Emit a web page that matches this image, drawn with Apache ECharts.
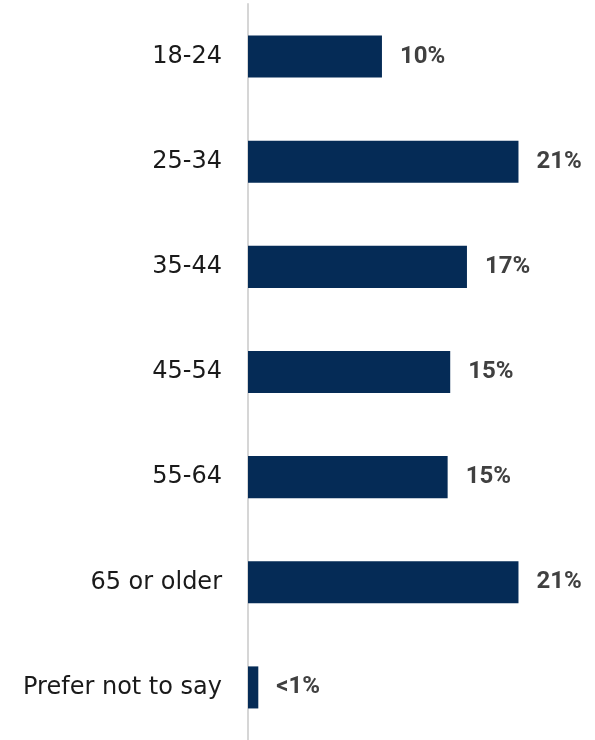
<!DOCTYPE html>
<html>
<head>
<meta charset="utf-8">
<script src="https://cdn.jsdelivr.net/npm/echarts@6/dist/echarts.min.js"></script>
<style>
  html, body { margin: 0; padding: 0; background: #fff; }
  #chart { width: 595px; height: 740px; }
</style>
</head>
<body>
<div id="chart"></div>
<script>
// age groups, top to bottom
const categories = ['18-24', '25-34', '35-44', '45-54', '55-64', '65 or older', 'Prefer not to say']
// bar lengths (%)
const values = [10.4, 21.0, 17.0, 15.7, 15.5, 21.0, 0.8]
// printed labels
const valueLabels = ['10%', '21%', '17%', '15%', '15%', '21%', '<1%']

const chart = echarts.init(document.getElementById('chart'))

const option = {
  animation: false,
  grid: {
    left: 248,
    right: 25,
    top: 4,
    bottom: -3
  },
  xAxis: {
    type: 'value',
    min: 0,
    max: 25,
    show: false
  },
  yAxis: {
    type: 'category',
    inverse: true,
    data: categories,
    axisLine: { show: true, lineStyle: { color: '#d6d6d6', width: 2 } },
    axisTick: { show: false },
    axisLabel: {
      margin: 26,
      color: '#1a1a1a',
      fontSize: 24,
      fontFamily: '"DejaVu Sans", sans-serif'
    }
  },
  series: [
    {
      type: 'bar',
      data: values,
      barCategoryGap: '60%',
      itemStyle: { color: '#052b56' },
      label: {
        show: true,
        position: 'right',
        distance: 18,
        color: '#404040',
        fontSize: 24,
        fontWeight: 'bold',
        fontFamily: 'Roboto, sans-serif',
        formatter: p => valueLabels[p.dataIndex]
      }
    }
  ]
}
chart.setOption(option)
</script>
</body>
</html>
